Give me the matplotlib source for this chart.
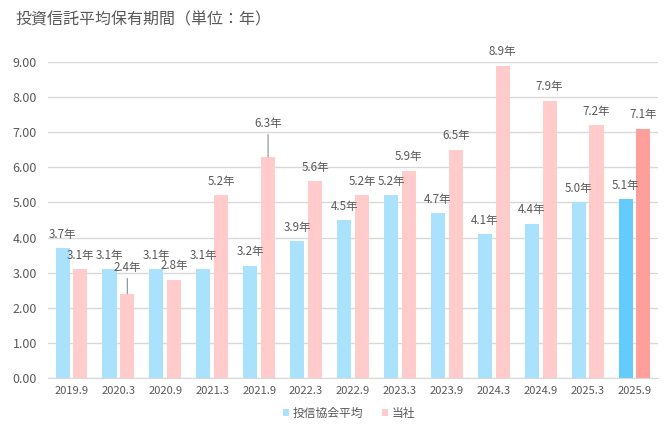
import numpy as np
import matplotlib
matplotlib.use('Agg')
from matplotlib import pyplot as plt

plt.rcParams['font.family'] = ['Noto Sans CJK JP', 'DejaVu Sans']

# Data
periods = ['2019.9', '2020.3', '2020.9', '2021.3', '2021.9', '2022.3', '2022.9',
           '2023.3', '2023.9', '2024.3', '2024.9', '2025.3', '2025.9']
industry_avg = [3.7, 3.1, 3.1, 3.1, 3.2, 3.9, 4.5, 5.2, 4.7, 4.1, 4.4, 5.0, 5.1]
company = [3.1, 2.4, 2.8, 5.2, 6.3, 5.6, 5.2, 5.9, 6.5, 8.9, 7.9, 7.2, 7.1]
series_names = ['投信協会平均', '当社']
title = '投資信託平均保有期間（単位：年）'

TEXT = '#595959'
GRID = '#d9d9d9'
blue_light, blue_dark = '#aae1fc', '#63cbfd'
pink_light, pink_dark = '#ffcbcb', '#ff9e9a'

# label lifts (points) for labels pulled up with a leader line: (series, index)
leader_lift = {(1, 1): 14, (1, 4): 19}

x = np.arange(len(periods))
width = 0.3
offset = 0.19

fig = plt.figure(figsize=(6.7, 4.3), dpi=100)
ax = fig.add_axes([48 / 670, 1 - 378 / 430, 610 / 670, 316 / 430])

n = len(periods)
blue_colors = [blue_light] * (n - 1) + [blue_dark]
pink_colors = [pink_light] * (n - 1) + [pink_dark]

b1 = ax.bar(x - offset, industry_avg, width, color=blue_colors, label=series_names[0], zorder=3)
b2 = ax.bar(x + offset, company, width, color=pink_colors, label=series_names[1], zorder=3)

# Data labels
for s, (vals, xs) in enumerate([(industry_avg, x - offset), (company, x + offset)]):
    for i, (xi, v) in enumerate(zip(xs, vals)):
        lift = leader_lift.get((s, i))
        if lift:
            ax.annotate(f'{v:.1f}年', xy=(xi, v), xytext=(0, lift), textcoords='offset points',
                        ha='center', va='bottom', fontsize=8.3, color=TEXT, zorder=5,
                        arrowprops=dict(arrowstyle='-', color='#8c8c8c', lw=0.8,
                                        shrinkA=1, shrinkB=0))
        else:
            ax.annotate(f'{v:.1f}年', xy=(xi, v), xytext=(0, 10), textcoords='offset points',
                        ha='center', va='center', fontsize=8.3, color=TEXT, zorder=5)

ax.set_xlim(-0.5, n - 0.5)
ax.set_ylim(0, 9)
ax.set_yticks(np.arange(0, 9.5, 1))
ax.set_yticklabels([f'{t:.2f}' for t in np.arange(0, 9.5, 1)])
ax.set_xticks(x)
ax.set_xticklabels(periods)
ax.tick_params(axis='both', length=0, colors=TEXT)
ax.tick_params(axis='y', labelsize=9, pad=8)
ax.tick_params(axis='x', labelsize=8, pad=6)
ax.grid(axis='y', color=GRID, linewidth=1, zorder=0)
for side in ['top', 'right', 'left']:
    ax.spines[side].set_visible(False)
ax.spines['bottom'].set_color(GRID)
ax.spines['bottom'].set_zorder(4)

fig.text(15 / 670, 1 - 20 / 430, title, fontsize=11.5, color=TEXT, ha='left', va='center')

fig.legend(handles=[b1, b2], loc='center', bbox_to_anchor=(349 / 670, 1 - 413 / 430), ncol=2,
           frameon=False, fontsize=8.5, handlelength=0.55, handleheight=0.55,
           handletextpad=0.3, columnspacing=1.6, labelcolor=TEXT)

fig.savefig('out.png', dpi=100)
